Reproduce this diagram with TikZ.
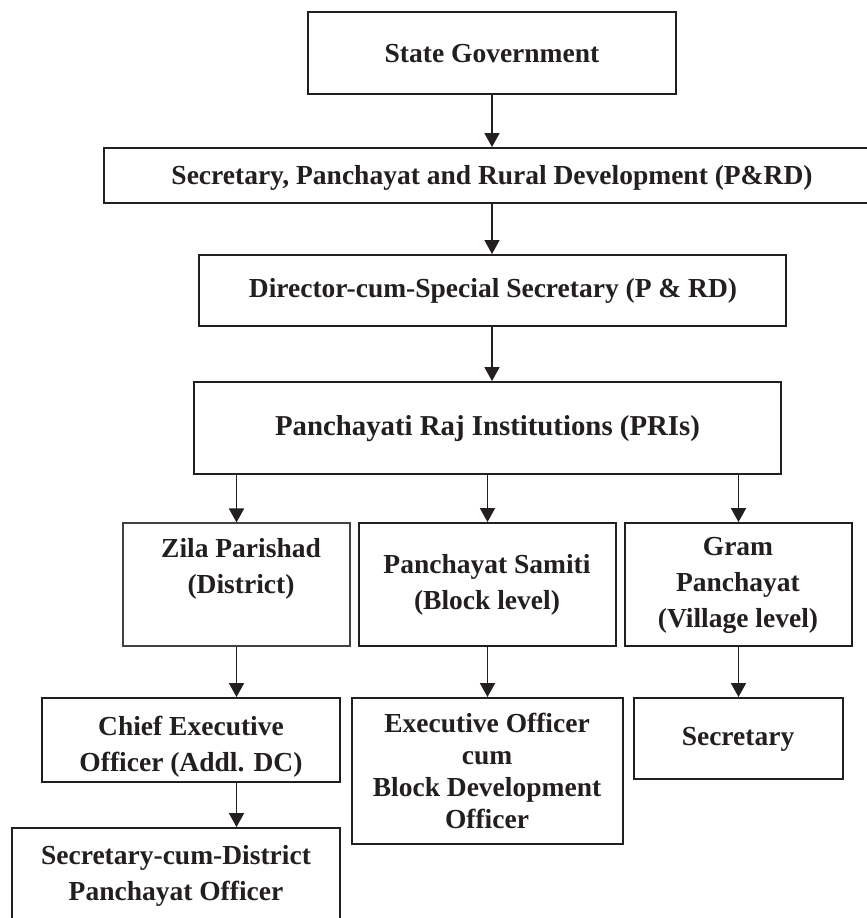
\documentclass[tikz,border=0pt]{standalone}
\usepackage{fontspec}
\setmainfont{Liberation Serif}
\usetikzlibrary{arrows.meta}
\definecolor{ink}{HTML}{231F20}
\begin{document}
\begin{tikzpicture}[x=1pt,y=-1pt,
  box/.style={draw=ink, line width=1.9pt, inner sep=0pt},
  thinbox/.style={draw=ink!85, line width=1.1pt, inner sep=0pt},
  txt/.style={anchor=base, align=center, inner sep=0pt, text=ink,
    font=\bfseries\fontsize{27.5}{36}\selectfont},
  txtb/.style={txt, font=\bfseries\fontsize{27.5}{32}\selectfont},
  conn/.style={draw=ink, line width=1.8pt, -{Triangle[length=14pt,width=15pt]}}]
\useasboundingbox (0,0) rectangle (867,918);
\fill[white] (0,0) rectangle (867,918);
% boxes
\node[box, minimum width=368pt, minimum height=82pt] (sg) at (492,53) {};
\node[box, minimum width=766pt, minimum height=55pt] (sec) at (487,175.5) {};
\node[box, minimum width=587pt, minimum height=71pt] (dir) at (492.5,290.5) {};
\node[box, minimum width=587pt, minimum height=92pt] (pri) at (487.5,428) {};
\node[thinbox, minimum width=227pt, minimum height=123pt] (zila) at (236.5,584.5) {};
\node[box, minimum width=257pt, minimum height=123pt] (sam) at (487.5,584.5) {};
\node[box, minimum width=227pt, minimum height=123pt] (gram) at (738.5,584.5) {};
\node[box, minimum width=298pt, minimum height=84pt] (ceo) at (191,740) {};
\node[box, minimum width=271pt, minimum height=146pt] (exec) at (487.5,771) {};
\node[box, minimum width=209pt, minimum height=81pt] (secy) at (738.5,738.5) {};
\node[box, minimum width=328pt, minimum height=130pt] (sdpo) at (176,893) {};
% texts (base anchor = baseline of the last line)
\node[txt] (sgT) at (492,62) {State Government};
\node[txt] (secT) at (492,184) {Secretary, Panchayat and Rural Development (P\&RD)};
\node[txt] (dirT) at (493,297) {Director-cum-Special Secretary (P \& RD)};
\node[txt, font=\bfseries\fontsize{28.8}{36}\selectfont] (priT) at (487.5,435) {Panchayati Raj Institutions (PRIs)};
\node[txt] (zilaT) at (241,593) {Zila Parishad\\(District)};
\node[txt] (samT) at (487,609) {Panchayat Samiti\\(Block level)};
\node[txt] (gramT) at (738,627) {Gram\\Panchayat\\(Village level)};
\node[txt] (ceoT) at (191,771) {Chief Executive\\Officer (Addl. DC)};
\node[txtb] (execT) at (487,828) {Executive Officer\\cum\\Block Development\\Officer};
\node[txt] (secyT) at (738,745) {Secretary};
\node[txt] (sdpoT) at (176,900) {Secretary-cum-District\\Panchayat Officer};
% connectors
\draw[conn] (sg.south) -- (sg.south |- sec.north);
\draw[conn] (sg.south |- sec.south) -- (sg.south |- dir.north);
\draw[conn] (sg.south |- dir.south) -- (sg.south |- pri.north);
\draw[conn] (zila.north |- pri.south) -- (zila.north);
\draw[conn] (sam.north |- pri.south) -- (sam.north);
\draw[conn] (gram.north |- pri.south) -- (gram.north);
\draw[conn] (zila.south) -- (zila.south |- ceo.north);
\draw[conn] (zila.south |- ceo.south) -- (zila.south |- sdpo.north);
\draw[conn] (sam.south) -- (exec.north);
\draw[conn] (gram.south) -- (secy.north);
\end{tikzpicture}
\end{document}
